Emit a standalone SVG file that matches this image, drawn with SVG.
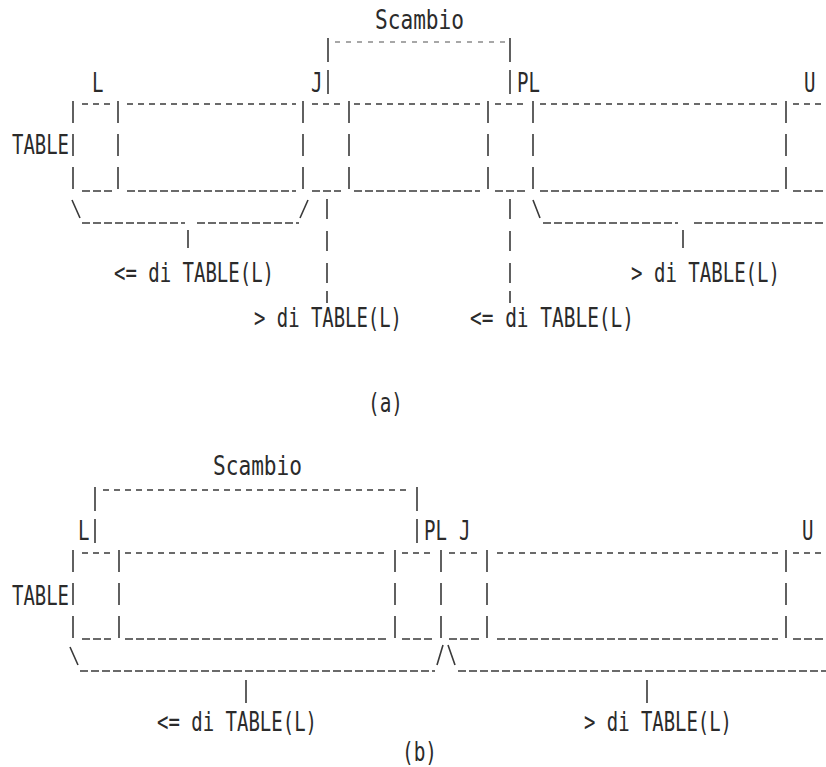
<svg xmlns="http://www.w3.org/2000/svg" width="826" height="767" viewBox="0 0 826 767">
<style>
text{font-family:"DejaVu Sans Mono","Liberation Mono",monospace;font-size:26px;fill:#2b2b2b}
.ov{stroke:#3a3a3a;stroke-width:1.6;stroke-dasharray:6 5;fill:none}
.us{stroke:#3a3a3a;stroke-width:1.5;stroke-dasharray:8 3;fill:none}
.lt{stroke:#8a8a8a;stroke-width:1.4;stroke-dasharray:5 6;fill:none}
.vb{stroke:#3a3a3a;stroke-width:1.6;stroke-dasharray:22 11;fill:none}
.vs{stroke:#3a3a3a;stroke-width:1.6;stroke-dasharray:24 8;fill:none}
.sl{stroke:#3a3a3a;stroke-width:1.6;fill:none}
</style>
<rect width="826" height="767" fill="#ffffff"/>

<!-- ===== (a) ===== -->
<g id="a-scambio">
<text x="375" y="29" textLength="89" lengthAdjust="spacingAndGlyphs">Scambio</text>
<path class="vs" d="M328 38V96M510 38V96"/>
<path class="lt" d="M335 42H505"/>
</g>
<g id="a-indices">
<text x="92" y="92" textLength="11.5" lengthAdjust="spacingAndGlyphs">L</text>
<text x="311" y="92" textLength="11.5" lengthAdjust="spacingAndGlyphs">J</text>
<text x="517" y="92" textLength="23" lengthAdjust="spacingAndGlyphs">PL</text>
<text x="804" y="92" textLength="11.5" lengthAdjust="spacingAndGlyphs">U</text>
</g>
<g id="a-table">
<text x="12" y="154" textLength="57" lengthAdjust="spacingAndGlyphs">TABLE</text>
<path class="ov" d="M82 104H113M127 104H296M312 104H341M354 104H480M495 104H526M540 104H779M793 104H826"/>
<path class="us" d="M82 191H113M127 191H296M312 191H341M354 191H480M495 191H526M540 191H779M793 191H826"/>
<path class="vb" d="M73 101V194M118 101V194M303 101V194M349 101V194M488 101V194M533 101V194M786 101V194"/>
</g>
<g id="a-connectors">
<path class="sl" d="M72 200L80 218M308 200L300 218M533 200L540 218"/>
<path class="us" d="M82 223H185M197 223H299M543 223H678M694 223H826"/>
<path class="sl" d="M188 230V248M683 230V248"/>
<path class="sl" d="M327 199V219M327 231V251M327 263V283M327 291V303M510 199V219M510 231V251M510 263V283M510 291V303"/>
</g>
<g id="a-labels">
<text x="114" y="282" textLength="160" lengthAdjust="spacingAndGlyphs">&lt;= di TABLE(L)</text>
<text x="631" y="282" textLength="149" lengthAdjust="spacingAndGlyphs">&gt; di TABLE(L)</text>
<text x="254" y="327" textLength="148" lengthAdjust="spacingAndGlyphs">&gt; di TABLE(L)</text>
<text x="470" y="327" textLength="164" lengthAdjust="spacingAndGlyphs">&lt;= di TABLE(L)</text>
<text x="368" y="412" textLength="35" lengthAdjust="spacingAndGlyphs">(a)</text>
</g>

<!-- ===== (b) ===== -->
<g id="b-scambio">
<text x="213" y="475" textLength="89" lengthAdjust="spacingAndGlyphs">Scambio</text>
<path class="vs" d="M95 487V544M417 487V544"/>
<path class="ov" d="M103 490H410"/>
</g>
<g id="b-indices">
<text x="78" y="540" textLength="11.5" lengthAdjust="spacingAndGlyphs">L</text>
<text x="424" y="540" textLength="23" lengthAdjust="spacingAndGlyphs">PL</text>
<text x="459" y="540" textLength="11.5" lengthAdjust="spacingAndGlyphs">J</text>
<text x="802" y="540" textLength="11.5" lengthAdjust="spacingAndGlyphs">U</text>
</g>
<g id="b-table">
<text x="12" y="605" textLength="57" lengthAdjust="spacingAndGlyphs">TABLE</text>
<path class="ov" d="M82 553H111M125 553H388M402 553H433M449 553H479M497 553H778M793 553H826"/>
<path class="us" d="M82 639H111M125 639H388M402 639H433M449 639H479M497 639H778M793 639H826"/>
<path class="vb" d="M73 550V641M119 550V641M395 550V641M441 550V641M487 550V641M786 550V641"/>
</g>
<g id="b-connectors">
<path class="sl" d="M70 647L78 665M437 665L443 645M448 645L455 665"/>
<path class="us" d="M80 671H435M458 671H826"/>
<path class="sl" d="M246 680V703M647 680V703"/>
</g>
<g id="b-labels">
<text x="157" y="731" textLength="160" lengthAdjust="spacingAndGlyphs">&lt;= di TABLE(L)</text>
<text x="584" y="731" textLength="148" lengthAdjust="spacingAndGlyphs">&gt; di TABLE(L)</text>
<text x="402" y="761" textLength="35" lengthAdjust="spacingAndGlyphs">(b)</text>
</g>
</svg>
